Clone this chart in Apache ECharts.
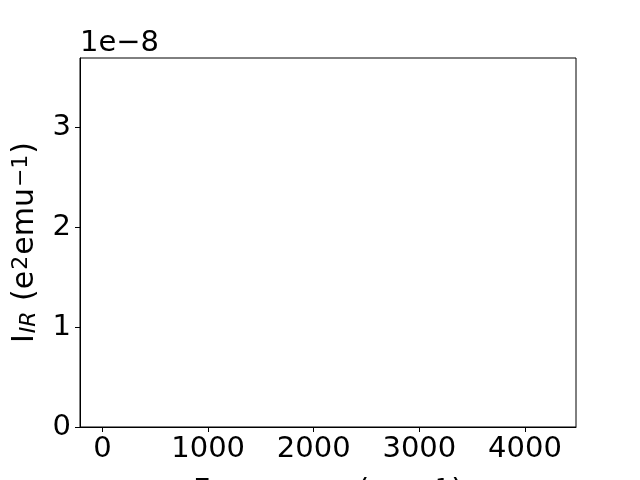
<!DOCTYPE html>
<html><head><meta charset="utf-8">
<script src="https://cdn.jsdelivr.net/npm/echarts@6/dist/echarts.min.js"></script>
<style>html,body{margin:0;padding:0;background:#fff}#c{width:640px;height:480px}</style>
</head><body><div id="c"></div>
<script>
// Data (the reference plot contains no visible marks)
const frequencies = [];
const intensities = [];
// Tick labels
const xTicks = [0, 1000, 2000, 3000, 4000];
const yTicks = [0, 1e-8, 2e-8, 3e-8];
const yExponent = 1e-8;
const xRange = [-213.5, 4483.5];
const yRange = [0, 3.69e-8];

const FONT = 'DejaVu Sans';
const FS = 29;
const NFS = 30;
const SFS = 22;
const chart = echarts.init(document.getElementById('c'), null, {renderer: 'canvas'});
const seriesData = frequencies.map((f, i) => [f, intensities[i]]);

chart.setOption({
  animation: false,
  backgroundColor: '#fff',
  grid: {left: 80, right: 64, top: 58, bottom: 53, containLabel: false, outerBoundsMode: 'none',
    show: true, borderColor: '#000', borderWidth: 1, backgroundColor: 'transparent'},
  xAxis: {
    type: 'value', min: xRange[0], max: xRange[1],
    splitLine: {show: false},
    axisLine: {show: true, onZero: false, lineStyle: {color: '#000', width: 1}},
    axisTick: {show: true, length: 5, lineStyle: {color: '#000', width: 1}, customValues: xTicks},
    axisLabel: {color: '#000', fontFamily: FONT, fontSize: FS, margin: 8, customValues: xTicks, formatter: v => String(Math.round(v))},
    name: '{a|Frequency (cm}{c|−1}{a|)}',
    nameLocation: 'middle', nameGap: 50,
    nameTextStyle: {color: '#000', fontFamily: FONT, fontSize: NFS,
      rich: {a: {fontFamily: FONT, fontSize: NFS, color: '#000'}, c: {fontFamily: FONT, fontSize: SFS, color: '#000', verticalAlign: 'top', padding: [0, 2, 0, 2]}}}
  },
  yAxis: {
    type: 'value', min: yRange[0], max: yRange[1],
    splitLine: {show: false},
    axisLine: {show: true, onZero: false, lineStyle: {color: '#000', width: 1}},
    axisTick: {show: true, length: 5, lineStyle: {color: '#000', width: 1}, customValues: yTicks},
    axisLabel: {color: '#000', fontFamily: FONT, fontSize: FS, margin: 9, customValues: yTicks, formatter: v => String(Math.round(v / yExponent))},
    name: '{a|I}{b|IR}{a| (e}{c|2}{a|emu}{c|−1}{a|)}',
    nameLocation: 'middle', nameRotate: 90, nameGap: 40,
    nameTextStyle: {color: '#000', fontFamily: FONT, fontSize: NFS,
      rich: {
        a: {fontFamily: FONT, fontSize: NFS, color: '#000'},
        b: {fontFamily: FONT, fontSize: SFS, fontStyle: 'italic', color: '#000', verticalAlign: 'bottom', padding: [0, 1, 0, 1]},
        c: {fontFamily: FONT, fontSize: SFS, color: '#000', verticalAlign: 'top', padding: [0, 1, 0, 1]}
      }}
  },
  graphic: [{
    type: 'text', left: 80, top: 29,
    style: {text: '1e−8', fill: '#000', font: FS + 'px "' + FONT + '"'}
  }],
  series: [{type: 'line', data: seriesData, showSymbol: false, lineStyle: {color: '#1f77b4', width: 1.5}}]
});
</script></body></html>
